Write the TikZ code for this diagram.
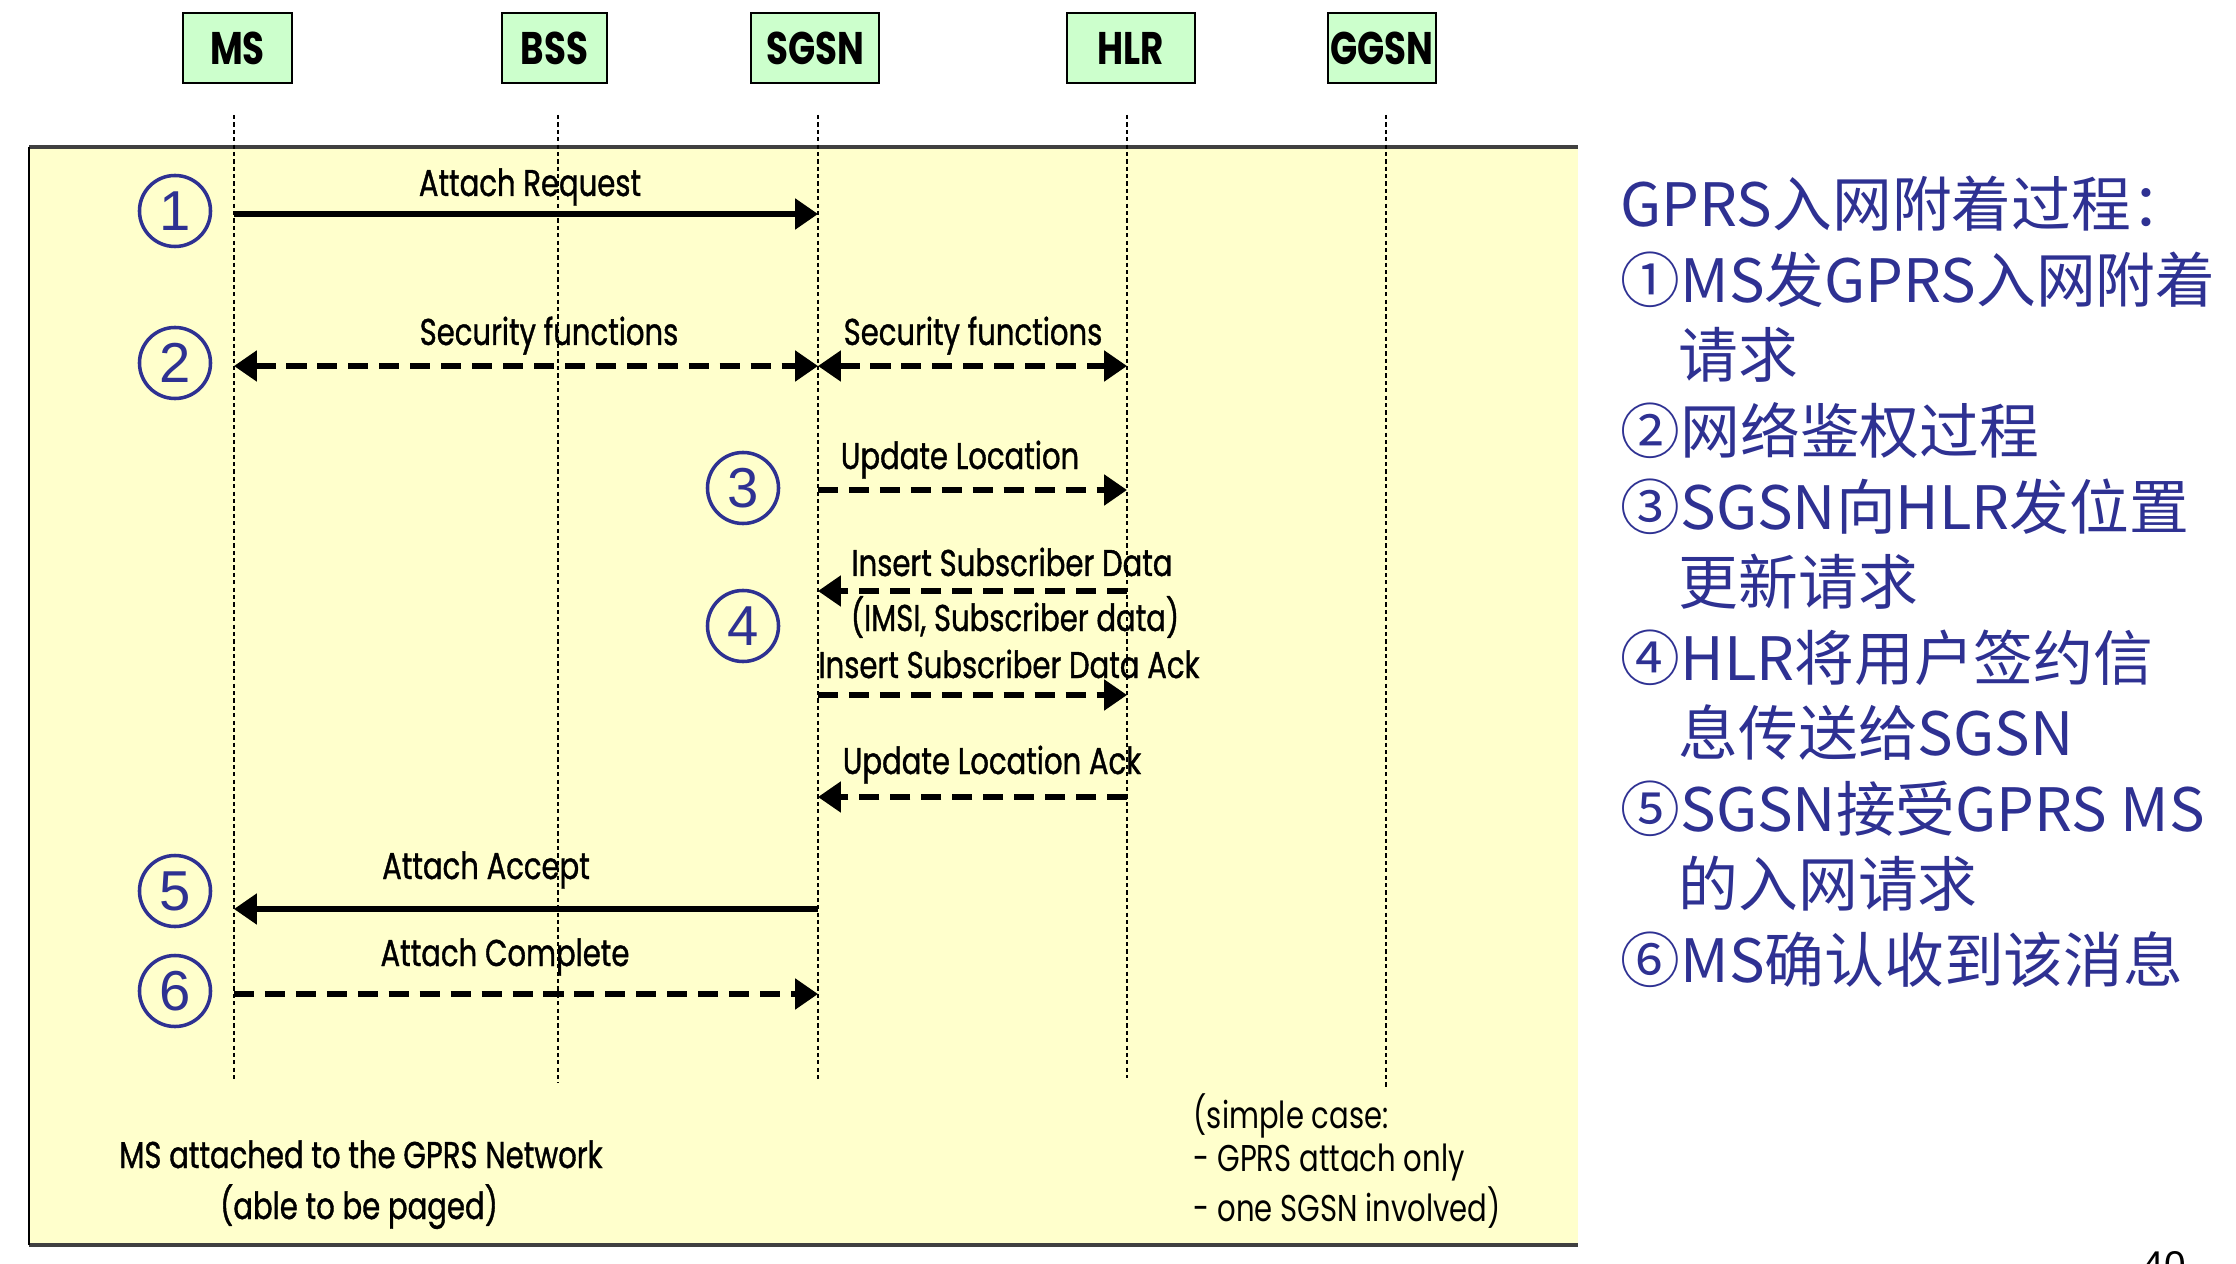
\documentclass[tikz,border=0pt]{standalone}
\usepackage{fontspec}
\setmainfont{Poppins}[FakeStretch=0.78]
\newfontfamily\lblfont{Poppins}[FakeStretch=0.78,FakeBold=1]
\newfontfamily\cjk{Noto Sans CJK SC}
\newfontfamily\numfont{Liberation Sans}
\usetikzlibrary{arrows.meta}

\definecolor{stepblue}{RGB}{46,49,146}
\definecolor{boxgreen}{RGB}{204,255,204}
\definecolor{paleyellow}{RGB}{255,255,204}

\tikzset{
  entity/.style={draw=black,line width=0.6pt,fill=boxgreen,inner sep=0pt,minimum height=19.9pt,font=\fontsize{13}{15}\selectfont\bfseries},
  lifeline/.style={line width=0.4pt,dash pattern=on 1.2pt off 0.9pt},
  msg/.style={line width=1.5pt,-{Triangle[length=6.5pt,width=8.5pt]}},
  dmsg/.style={msg,dash pattern=on 5.7pt off 3.1pt},
  bmsg/.style={dmsg,{Triangle[length=6.5pt,width=8.5pt]}-{Triangle[length=6.5pt,width=8.5pt]}},
  lbl/.style={font=\lblfont\fontsize{10.6}{12}\selectfont,anchor=base,inner sep=0pt},
  note/.style={font=\fontsize{10.6}{12}\selectfont,anchor=base west,inner sep=0pt},
  stepnum/.style={circle,draw=stepblue,line width=1pt,minimum size=20.2pt,inner sep=0pt,text=stepblue,font=\numfont\fontsize{16}{16}\selectfont}
}

\begin{document}
\begin{tikzpicture}[x=0.01cm,y=-0.01cm]
\useasboundingbox (0,0) rectangle (2236,1264);

\coordinate (p1) at (29,147);
\coordinate (p2) at (1578,147);
\coordinate (p3) at (1578,1245);
\coordinate (p4) at (29,1245);
\fill[paleyellow] (p1) rectangle (p3);
\draw[black!75,line width=1.1pt] (p1) -- (p2);
\draw[black!75,line width=1.4pt] (p4) -- (p3);
\draw[black,line width=0.5pt] (p1) -- (p4);

\node[entity,minimum width=31pt] (ms) at (237.5,48) {MS};
\node[entity,minimum width=30pt] (bss) at (554.5,48) {BSS};
\node[entity,minimum width=36.4pt] (sgsn) at (815,48) {SGSN};
\node[entity,minimum width=36.4pt] (hlr) at (1131,48) {HLR};
\node[entity,minimum width=30.7pt] (ggsn) at (1382,48) {GGSN};

\foreach \l/\x/\b in {ms/234/1080,bss/558/1083,sgsn/818/1080,hlr/1127/1078,ggsn/1386/1087}
  \draw[lifeline] (\x,115) coordinate (\l-t) -- (\x,\b) coordinate (\l-b);

\foreach \y [count=\i] in {214,366,490,591,695,797,909,994}
  \foreach \l/\x in {ms/234,bss/558,sgsn/818,hlr/1127}
    \coordinate (\l\i) at (\x,\y);

\draw[msg] (ms1) -- (sgsn1);
\draw[bmsg] (ms2) -- (sgsn2);
\draw[bmsg] (sgsn2) -- (hlr2);
\draw[dmsg] (sgsn3) -- (hlr3);
\draw[dmsg] (hlr4) -- (sgsn4);
\draw[dmsg] (sgsn5) -- (hlr5);
\draw[dmsg] (hlr6) -- (sgsn6);
\draw[msg] (sgsn7) -- (ms7);
\draw[dmsg] (ms8) -- (sgsn8);

\node[lbl] (l1) at (530,196) {Attach Request};
\node[lbl] (l2) at (549,345) {Security functions};
\node[lbl] (l3) at (973,345) {Security functions};
\node[lbl] (l4) at (960,469) {Update Location};
\node[lbl] (l5) at (1012,576) {Insert Subscriber Data};
\node[lbl] (l6) at (1015,631) {(IMSI, Subscriber data)};
\node[lbl] (l7) at (1009,678) {Insert Subscriber Data Ack};
\node[lbl] (l8) at (992,774) {Update Location Ack};
\node[lbl] (l9) at (486,879) {Attach Accept};
\node[lbl] (l10) at (505,966) {Attach Complete};
\node[lbl] (l11) at (361,1168) {MS attached to the GPRS Network};
\node[lbl] (l12) at (359,1219) {(able to be paged)};

\node[note] (n1) at (1193,1128) {(simple case:};
\node[note] (n2) at (1193,1171) {- GPRS attach only};
\node[note] (n3) at (1193,1221) {- one SGSN involved)};

\node[stepnum] (c1) at (175,211) {1};
\node[stepnum] (c2) at (175,363) {2};
\node[stepnum] (c3) at (743,488) {3};
\node[stepnum] (c4) at (743,626) {4};
\node[stepnum] (c5) at (175,891) {5};
\node[stepnum] (c6) at (175,991) {6};

\foreach \x/\t [count=\i from 0] in {1620/{GPRS入网附着过程：},1620/{①MS发GPRS入网附着},1678/{请求},1620/{②网络鉴权过程},1620/{③SGSN向HLR发位置},1678/{更新请求},1620/{④HLR将用户签约信},1678/{息传送给SGSN},1620/{⑤SGSN接受GPRS MS},1678/{的入网请求},1620/{⑥MS确认收到该消息}}
  \node[anchor=base west,inner sep=0pt,text=stepblue,font=\cjk\fontsize{17}{17}\selectfont] (txt\i) at (\x,227+75.5*\i) {\t};

\node[anchor=north west,inner sep=0pt,font=\numfont\fontsize{11}{11}\selectfont] (page) at (2142,1251) {40};

\end{tikzpicture}
\end{document}
